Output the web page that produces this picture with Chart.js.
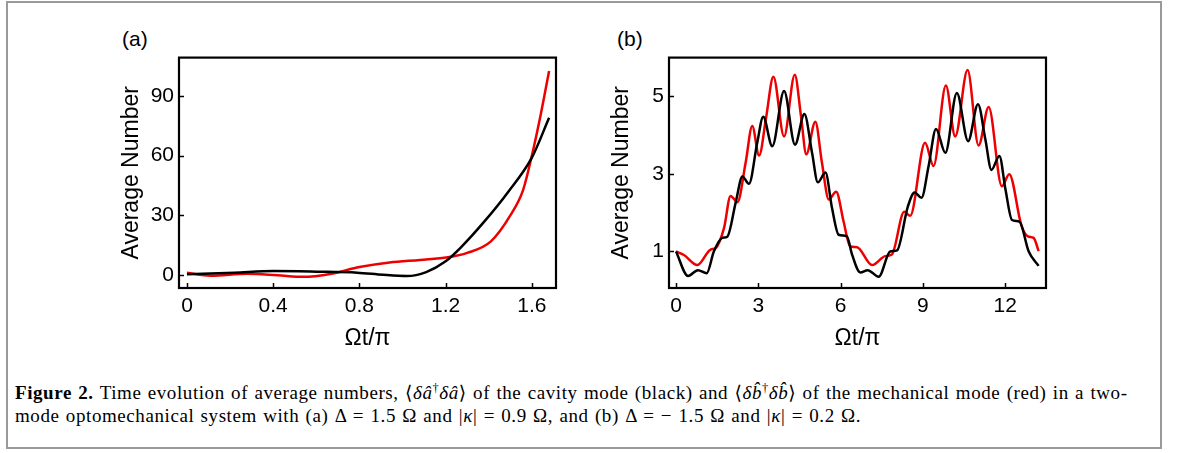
<!DOCTYPE html>
<html>
<head>
<meta charset="utf-8">
<script src="https://cdn.jsdelivr.net/npm/chart.js@4.4.1/dist/chart.umd.min.js"></script>
<style>
  body { margin: 0; background: #fff; width: 1179px; height: 453px; overflow: hidden; position: relative; }
  #box { position: absolute; left: 6px; top: 1px; width: 1156px; height: 448px; border: 2px solid #9a9a9a; box-sizing: border-box; }
  .panel { position: absolute; top: 40px; }
  #chartA { left: 100px; }
  #chartB { left: 590px; }
  .tag { position: absolute; font-family: "Liberation Sans", Arial, sans-serif; font-size: 21px; color: #000; }
  #cap { position: absolute; left: 15px; top: 381px; width: 1140px; font-family: "Liberation Serif", "DejaVu Serif", serif; font-size: 19px; letter-spacing: 0.58px; word-spacing: 1px; line-height: 23px; color: #000; white-space: nowrap; }
  #cap sup { font-size: 0.65em; line-height: 0; vertical-align: 0.6em; }
</style>
</head>
<body>
<div id="box"></div>
<div class="tag" style="left:122px; top:27px;">(a)</div>
<div class="tag" style="left:617px; top:27px;">(b)</div>
<canvas id="chartA" class="panel" width="470" height="320"></canvas>
<canvas id="chartB" class="panel" width="470" height="320"></canvas>
<div id="cap"><b>Figure 2.</b> Time evolution of average numbers, ⟨<i>δâ</i><sup>†</sup><i>δâ</i>⟩ of the cavity mode (black) and ⟨<i>δb̂</i><sup>†</sup><i>δb̂</i>⟩ of the mechanical mode (red) in a two-<br>mode optomechanical system with (a) Δ = 1.5 Ω and |<i>κ</i>| = 0.9 Ω, and (b) Δ = − 1.5 Ω and |<i>κ</i>| = 0.2 Ω.</div>

<script>
const Chart = window.Chart;

// panel (a): Ωt/π vs average number
const aCavityT = [0, 0.22, 0.40, 0.60, 0.79, 0.91, 1.02, 1.11, 1.20, 1.27, 1.38, 1.49, 1.60, 1.68];
const aCavityN = [0.5, 1.3, 2.1, 1.8, 1.3, 0.2, -0.4, 1.6, 7.0, 13.9, 27, 41.8, 59, 79];
const aMechT = [0, 0.11, 0.28, 0.42, 0.54, 0.67, 0.80, 0.94, 1.08, 1.21, 1.30, 1.41, 1.50, 1.56, 1.60, 1.64, 1.68];
const aMechN = [1.2, -0.2, 0.8, 0, -0.8, 0.8, 4.1, 6.4, 7.7, 9.0, 11.2, 17, 30, 43, 60, 80, 102.5];
const aTicksX = [0, 0.4, 0.8, 1.2, 1.6];
const aTicksY = [0, 30, 60, 90];

// panel (b)
const bCavityT = [0, 0.44, 0.80, 1.12, 1.38, 1.69, 1.87, 2.18, 2.42, 2.66, 2.96, 3.18, 3.51, 3.94, 4.34, 4.68, 4.96, 5.17, 5.45,
  5.69, 5.93, 6.23, 6.42, 6.72, 6.99, 7.39, 7.81, 8.06, 8.45, 8.70, 8.95, 9.21, 9.48, 9.82, 10.24, 10.65, 11.01, 11.28, 11.50,
  11.79, 12.01, 12.25, 12.52, 12.86, 13.22];
const bCavityN = [1.0, 0.37, 0.52, 0.44, 1.0, 1.35, 1.38, 2.27, 2.93, 2.74, 3.79, 4.47, 3.71, 5.13, 3.75, 4.54, 3.54, 2.78, 3.03,
  2.11, 1.43, 1.39, 0.92, 0.46, 0.52, 0.35, 1.0, 1.03, 2.15, 2.52, 2.38, 3.20, 4.15, 3.54, 5.08, 3.84, 4.79, 3.88, 3.10,
  3.46, 2.61, 1.81, 1.77, 1.0, 0.63];
const bMechT = [0, 0.29, 0.78, 1.26, 1.45, 1.75, 1.99, 2.24, 2.54, 2.78, 3.03, 3.29, 3.55, 3.94, 4.33, 4.56, 4.75, 5.08, 5.32,
  5.57, 5.84, 6.11, 6.35, 6.60, 7.15, 7.63, 7.87, 8.32, 8.54, 9.08, 9.39, 9.84, 10.18, 10.63, 11.03, 11.40, 11.88, 12.15,
  12.59, 12.83, 13.04, 13.22];
const bMechN = [1.0, 0.91, 0.65, 1.05, 1.09, 1.60, 2.43, 2.27, 3.29, 4.23, 3.47, 4.47, 5.50, 3.96, 5.55, 4.47, 3.50, 4.34, 3.29,
  2.34, 2.54, 1.77, 1.13, 1.11, 0.65, 0.88, 0.92, 2.02, 1.92, 3.80, 3.20, 5.27, 3.96, 5.67, 3.73, 4.72, 2.68, 2.99,
  1.68, 1.39, 1.35, 1.01];
const bTicksX = [0, 3, 6, 9, 12];
const bTicksY = [1, 3, 5];

Chart.defaults.font.family = '"Liberation Sans", Arial, sans-serif';
Chart.defaults.color = '#000';

function pairs(xs, ys) {
    return xs.map((x, i) => ({x: x, y: ys[i]}));
}

// black frame + inward ticks like the original plot
const framePlugin = {
    id: 'frame',
    afterDatasetsDraw(chart) {
        const ctx = chart.ctx;
        const a = chart.chartArea;
        const xs = chart.scales.x, ys = chart.scales.y;
        ctx.save();
        ctx.strokeStyle = '#000';
        ctx.lineWidth = 1.5;
        xs.ticks.forEach(t => {
            const p = Math.round(xs.getPixelForValue(t.value)) + 0.5;
            ctx.beginPath(); ctx.moveTo(p, a.bottom); ctx.lineTo(p, a.bottom - 5); ctx.stroke();
        });
        ys.ticks.forEach(t => {
            const p = Math.round(ys.getPixelForValue(t.value)) + 0.5;
            ctx.beginPath(); ctx.moveTo(a.left, p); ctx.lineTo(a.left + 5, p); ctx.stroke();
        });
        ctx.lineWidth = 2.2;
        ctx.strokeRect(a.left, a.top, a.right - a.left, a.bottom - a.top);
        ctx.restore();
    }
};

function createChart(canvasId, black, red, xr, yr, xTicks, yTicks, pad) {
    return new Chart(document.getElementById(canvasId), {
        type: 'line',
        data: {
            datasets: [
                {data: black, borderColor: '#000', borderWidth: 2.5, pointRadius: 0, cubicInterpolationMode: 'monotone', fill: false},
                {data: red, borderColor: '#ee0000', borderWidth: 2.5, pointRadius: 0, cubicInterpolationMode: 'monotone', fill: false}
            ]
        },
        options: {
            responsive: false,
            animation: false,
            devicePixelRatio: 1,
            layout: {padding: {left: pad, right: 14, top: 14, bottom: 4}},
            plugins: {legend: {display: false}, tooltip: {enabled: false}},
            scales: {
                x: {
                    type: 'linear', min: xr[0], max: xr[1],
                    grid: {display: false, drawTicks: false},
                    border: {display: false},
                    afterBuildTicks: s => { s.ticks = xTicks.map(v => ({value: v})); },
                    afterFit: s => { s.height = 68; },
                    ticks: {padding: 6, font: {size: 21}, callback: v => String(v), maxRotation: 0},
                    title: {display: true, text: 'Ωt/π', font: {size: 23}, padding: {top: 4, bottom: 4}}
                },
                y: {
                    type: 'linear', min: yr[0], max: yr[1],
                    grid: {display: false, drawTicks: false},
                    border: {display: false},
                    afterBuildTicks: s => { s.ticks = yTicks.map(v => ({value: v})); },
                    afterFit: s => { s.width = 79 - pad; },
                    ticks: {padding: 5, font: {size: 21}, callback: v => String(v)},
                    title: {display: true, text: 'Average Number', font: {size: 23}, padding: {top: 0, bottom: 0}}
                }
            }
        },
        plugins: [framePlugin]
    });
}

const chartA = createChart('chartA', pairs(aCavityT, aCavityN), pairs(aMechT, aMechN),
    [-0.037, 1.712], [-6.4, 109.2], aTicksX, aTicksY, 18);
const chartB = createChart('chartB', pairs(bCavityT, bCavityN), pairs(bMechT, bMechN),
    [-0.255, 13.49], [0.06, 5.99], bTicksX, bTicksY, 18);
</script>
</body>
</html>
